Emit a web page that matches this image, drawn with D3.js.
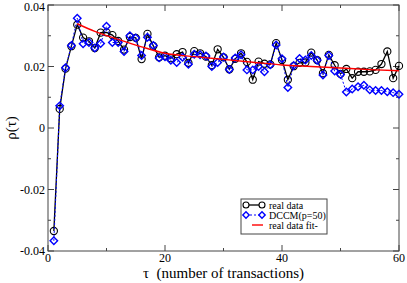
<!DOCTYPE html>
<html>
<head>
<meta charset="utf-8">
<script src="https://cdn.jsdelivr.net/npm/d3@7"></script>
<style>
  body { margin: 0; background: #fff; }
  svg { display: block; font-family: "Liberation Serif", "DejaVu Serif", serif; }
</style>
</head>
<body>
<svg id="chart" width="407" height="283"></svg>
<script>
// lags 1..60
var tau = d3.range(1, 61);

var realData = [
  -0.0335, 0.0062, 0.0193, 0.0266, 0.0336, 0.0294, 0.0282, 0.0260, 0.0310, 0.0311,
  0.0302, 0.0283, 0.0255, 0.0296, 0.0293, 0.0224, 0.0306, 0.0267, 0.0230, 0.0235,
  0.0227, 0.0240, 0.0247, 0.0212, 0.0250, 0.0243, 0.0232, 0.0204, 0.0256, 0.0230,
  0.0191, 0.0225, 0.0243, 0.0215, 0.0157, 0.0216, 0.0209, 0.0207, 0.0276, 0.0221,
  0.0157, 0.0201, 0.0212, 0.0213, 0.0245, 0.0221, 0.0178, 0.0238, 0.0204, 0.0176,
  0.0192, 0.0162, 0.0183, 0.0183, 0.0184, 0.0189, 0.0208, 0.0249, 0.0162, 0.0202
];

var dccm = [
  -0.0367, 0.0072, 0.0196, 0.0268, 0.0357, 0.0274, 0.0278, 0.0260, 0.0275, 0.0331,
  0.0278, 0.0278, 0.0249, 0.0300, 0.0293, 0.0236, 0.0295, 0.0268, 0.0228, 0.0232,
  0.0220, 0.0213, 0.0230, 0.0207, 0.0240, 0.0238, 0.0234, 0.0200, 0.0213, 0.0231,
  0.0190, 0.0228, 0.0238, 0.0189, 0.0189, 0.0200, 0.0183, 0.0206, 0.0270, 0.0225,
  0.0132, 0.0203, 0.0226, 0.0221, 0.0236, 0.0220, 0.0172, 0.0236, 0.0185, 0.0174,
  0.0117, 0.0127, 0.0134, 0.0139, 0.0124, 0.0122, 0.0122, 0.0118, 0.0115, 0.0110
];

// fit curve
var fitTau = [5, 8, 12, 16, 20, 25, 30, 35, 40, 45, 50, 55, 60];
var fitVal = [0.0339, 0.0314, 0.0288, 0.0264, 0.0243, 0.0232, 0.0223, 0.0214, 0.0205, 0.0200, 0.0195, 0.0190, 0.0186];

var xTicks = [0, 20, 40, 60];
var xMinor = [10, 30, 50];
var yTicks = [-0.04, -0.02, 0, 0.02, 0.04];
var yMinor = [-0.03, -0.01, 0.01, 0.03];

var legendLabels = ["real data", "DCCM(p=50)", "real data fit-"];

var svg = d3.select("#chart"),
  margin = { top: 5, left: 48, bottom: 32, right: 8 },
  width = +svg.attr("width"),
  height = +svg.attr("height");

var x = d3.scaleLinear().domain([0, 60]).range([margin.left, width - margin.right]);
var y = d3.scaleLinear().domain([-0.04, 0.04]).range([height - margin.bottom, margin.top]);

var fmt = d => (d === 0 ? "0" : d3.format(".2f")(d).replace("−", "-"));

// frame
svg.append("rect")
  .attr("x", x(0))
  .attr("y", y(0.04))
  .attr("width", x(60) - x(0))
  .attr("height", y(-0.04) - y(0.04))
  .attr("fill", "none")
  .attr("stroke", "#444")
  .attr("stroke-width", 1);

// inward ticks on all four sides
function ticks(g, vals, len) {
  vals.forEach(function(v) {
    g.append("line").attr("x1", x(v)).attr("x2", x(v)).attr("y1", y(-0.04)).attr("y2", y(-0.04) - len);
    g.append("line").attr("x1", x(v)).attr("x2", x(v)).attr("y1", y(0.04)).attr("y2", y(0.04) + len);
  });
}
function yticks(g, vals, len) {
  vals.forEach(function(v) {
    g.append("line").attr("x1", x(0)).attr("x2", x(0) + len).attr("y1", y(v)).attr("y2", y(v));
    g.append("line").attr("x1", x(60)).attr("x2", x(60) - len).attr("y1", y(v)).attr("y2", y(v));
  });
}
var tg = svg.append("g").attr("stroke", "#444").attr("stroke-width", 1);
ticks(tg, xTicks, 6);
ticks(tg, xMinor, 3);
yticks(tg, yTicks, 6);
yticks(tg, yMinor, 3);

svg.append("g")
  .selectAll("text")
  .data(xTicks)
  .enter()
  .append("text")
  .attr("x", d => x(d))
  .attr("y", y(-0.04) + 11)
  .attr("text-anchor", "middle")
  .style("font-size", "12px")
  .text(d => d);

svg.append("g")
  .selectAll("text")
  .data(yTicks)
  .enter()
  .append("text")
  .attr("x", x(0) - 3)
  .attr("y", d => Math.max(y(d), 7))
  .attr("dy", "0.35em")
  .attr("text-anchor", "end")
  .style("font-size", "12px")
  .text(fmt);

// axis titles
svg.append("text")
  .attr("transform", "translate(16," + y(0) + "),rotate(-90)")
  .attr("text-anchor", "middle")
  .style("font-size", "15px")
  .text("ρ(τ)");

svg.append("text")
  .attr("x", x(30))
  .attr("y", height - 5)
  .attr("text-anchor", "middle")
  .style("font-size", "15px")
  .attr("xml:space", "preserve")
  .text("τ  (number of transactions)");

var line = d3.line().x(d => x(d[0])).y(d => y(d[1]));

var realPts = tau.map((t, i) => [t, realData[i]]);
var dccmPts = tau.map((t, i) => [t, dccm[i]]);
var fitPts = fitTau.map((t, i) => [t, fitVal[i]]);

// real data
svg.append("path")
  .datum(realPts)
  .attr("fill", "none")
  .attr("stroke", "#000")
  .attr("stroke-width", 1.3)
  .attr("d", line);

svg.append("g")
  .selectAll("circle")
  .data(realPts)
  .enter()
  .append("circle")
  .attr("cx", d => x(d[0]))
  .attr("cy", d => y(d[1]))
  .attr("r", 3.6)
  .attr("fill", "none")
  .attr("stroke", "#000")
  .attr("stroke-width", 1.1);

// DCCM
svg.append("path")
  .datum(dccmPts)
  .attr("fill", "none")
  .attr("stroke", "#0000ff")
  .attr("stroke-width", 1)
  .attr("stroke-dasharray", "2,2")
  .attr("d", line);

var diamond = d3.symbol().type(d3.symbolSquare).size(28);

svg.append("g")
  .selectAll("path")
  .data(dccmPts)
  .enter()
  .append("path")
  .attr("d", diamond)
  .attr("transform", d => "translate(" + x(d[0]) + "," + y(d[1]) + ") rotate(45)")
  .attr("fill", "none")
  .attr("stroke", "#0000ff")
  .attr("stroke-width", 1.4);

// fit
svg.append("path")
  .datum(fitPts)
  .attr("fill", "none")
  .attr("stroke", "#ff0000")
  .attr("stroke-width", 1.4)
  .attr("d", line.curve(d3.curveMonotoneX));

// legend
var lg = svg.append("g").attr("transform", "translate(241,199)");
lg.append("rect")
  .attr("width", 86)
  .attr("height", 35)
  .attr("fill", "#fff")
  .attr("stroke", "#444")
  .attr("stroke-width", 1);

var rows = lg.selectAll(".legend")
  .data(legendLabels)
  .enter()
  .append("g")
  .attr("class", "legend")
  .attr("transform", (d, i) => "translate(0," + (6 + i * 10) + ")");

rows.append("text")
  .attr("x", 28)
  .attr("y", 0)
  .attr("dy", "0.35em")
  .style("font-size", "10px")
  .text(d => d);

var r0 = rows.filter((d, i) => i === 0);
r0.append("line").attr("x1", 5).attr("x2", 21).attr("stroke", "#000").attr("stroke-width", 1.3);
r0.selectAll("circle").data([5, 21]).enter().append("circle")
  .attr("cx", d => d).attr("r", 3).attr("fill", "#fff").attr("stroke", "#000").attr("stroke-width", 1.1);

var r1 = rows.filter((d, i) => i === 1);
r1.append("line").attr("x1", 5).attr("x2", 21).attr("stroke", "#0000ff").attr("stroke-dasharray", "2,2");
r1.selectAll("path").data([5, 21]).enter().append("path")
  .attr("d", d3.symbol().type(d3.symbolSquare).size(20))
  .attr("transform", d => "translate(" + d + ",0) rotate(45)")
  .attr("fill", "#fff").attr("stroke", "#0000ff").attr("stroke-width", 1.4);

var r2 = rows.filter((d, i) => i === 2);
r2.append("line").attr("x1", 11).attr("x2", 22).attr("stroke", "#ff0000").attr("stroke-width", 1.4);
</script>
</body>
</html>
